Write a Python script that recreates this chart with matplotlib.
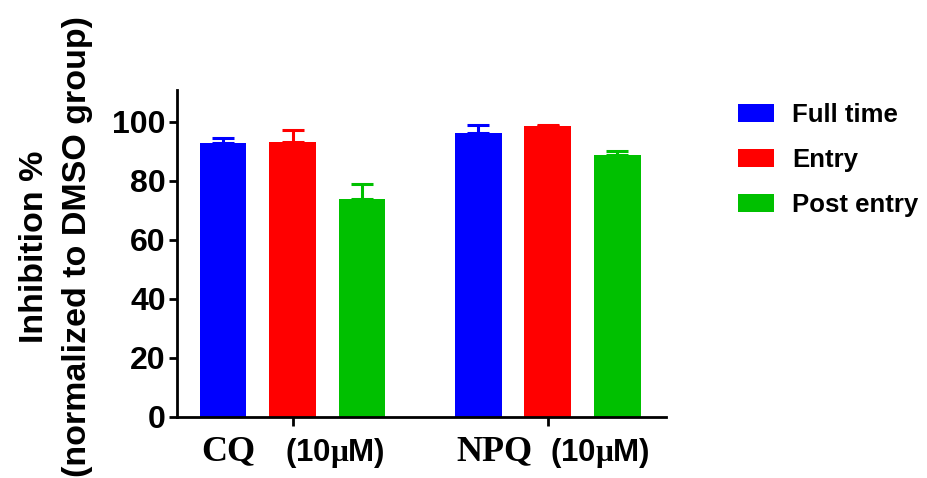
import numpy as np
import matplotlib
matplotlib.use('Agg')
import matplotlib.pyplot as plt

plt.rcParams['font.family'] = ['Liberation Sans', 'DejaVu Sans']
plt.rcParams['font.weight'] = 'bold'
plt.rcParams['mathtext.fontset'] = 'custom'
plt.rcParams['mathtext.rm'] = 'Liberation Serif'
plt.rcParams['mathtext.bf'] = 'Liberation Serif:bold'

# data
drugs = ['CQ', 'NPQ']
doses = [r'(10$\mathrm{\mu}$M)', r'(10$\mathrm{\mu}$M)']
series = ['Full time', 'Entry', 'Post entry']
colors = ['#0000FF', '#FF0000', '#00C000']
means = {
    'Full time': [92.8, 96.1],
    'Entry': [93.1, 98.4],
    'Post entry': [73.7, 88.7],
}
errs = {
    'Full time': [1.6, 2.8],
    'Entry': [4.1, 0.6],
    'Post entry': [5.0, 1.3],
}

fig = plt.figure(figsize=(9.27, 4.78), dpi=100)
ax = fig.add_axes([177 / 927, 1 - 416.7 / 478, 489 / 927, 326.7 / 478])

centers = np.array([0.0, 3.67])
offsets = [-1.0, 0.0, 1.0]
width = 0.676

for s, c, off in zip(series, colors, offsets):
    x = centers + off
    ax.bar(x, means[s], width, color=c, label=s, zorder=2)
    ax.errorbar(x, means[s], yerr=[np.zeros(len(x)), errs[s]], fmt='none',
                ecolor=c, elinewidth=2.2, capsize=8.2, capthick=2.2, zorder=1)

ax.set_xlim(-1.662, 5.374)
ax.set_ylim(0, 110.7)
ax.set_yticks([0, 20, 40, 60, 80, 100])
ax.set_xticks(centers)
ax.set_xticklabels(['', ''])
ax.tick_params(axis='y', labelsize=23, width=2, length=6, pad=2)
ax.tick_params(axis='x', width=2, length=6.5)
for lab in ax.get_yticklabels():
    lab.set_fontweight('bold')

# group labels: drug name in serif, dose in sans (offsets in points)
name_dx = [-46.5, -38.5]
dose_dx = [30.5, 37.8]
for xc, drug, dose, ndx, ddx in zip(centers, drugs, doses, name_dx, dose_dx):
    ax.annotate(drug, xy=(xc, 0), xycoords=('data', 'axes fraction'),
                xytext=(ndx, -31.7), textcoords='offset points',
                ha='center', va='baseline', fontsize=26,
                family='Liberation Serif', fontweight='bold')
    ax.annotate(dose, xy=(xc, 0), xycoords=('data', 'axes fraction'),
                xytext=(ddx, -31.7), textcoords='offset points',
                ha='center', va='baseline', fontsize=22.5, fontweight='bold')

for side in ['top', 'right']:
    ax.spines[side].set_visible(False)
for side in ['left', 'bottom']:
    ax.spines[side].set_linewidth(2)

ax.set_ylabel('Inhibition %\n(normalized to DMSO group)', fontsize=24.5,
              fontweight='bold', linespacing=1.5)
ax.yaxis.set_label_coords(-0.172, 0.52)

fig.legend(loc='upper left', bbox_to_anchor=(738 / 927, 1 - 103 / 478),
           frameon=False, handlelength=1.4, handleheight=0.72,
           handletextpad=0.72, labelspacing=0.82, borderpad=0, borderaxespad=0,
           prop={'weight': 'bold', 'size': 18.5})

fig.savefig('out.png', dpi=100)
